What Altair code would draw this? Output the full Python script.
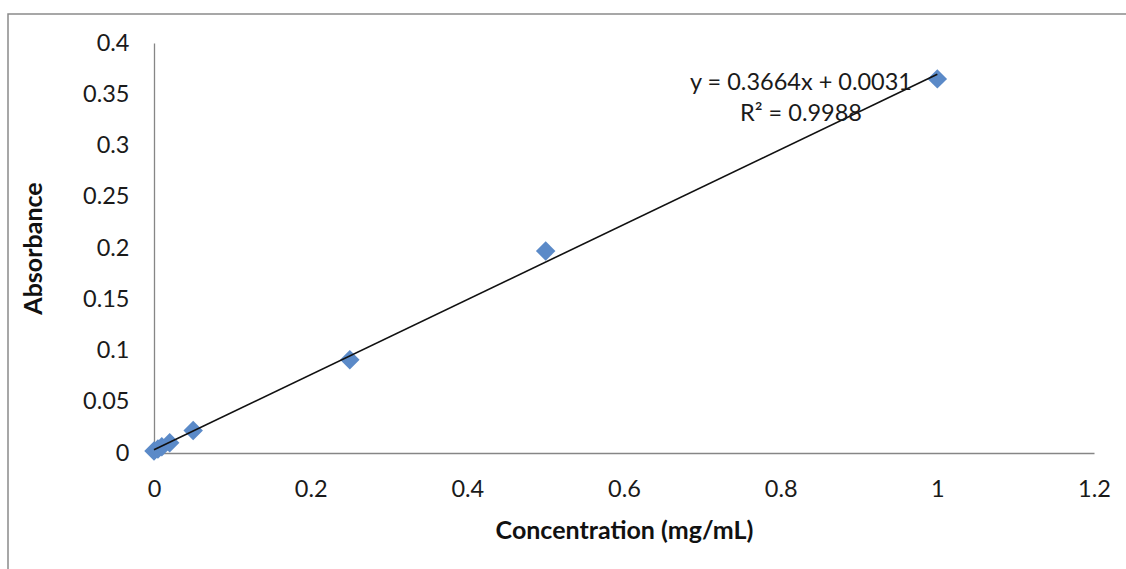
import altair as alt
import pandas as pd

# Data
concentration = [0.0, 0.005, 0.01, 0.02, 0.05, 0.25, 0.5, 1.0]
absorbance = [0.002, 0.004, 0.006, 0.010, 0.022, 0.091, 0.197, 0.365]

slope = 0.3664
intercept = 0.0031
eq_lines = ["y = 0.3664x + 0.0031", "R² = 0.9988"]

x_ticks = [0, 0.2, 0.4, 0.6, 0.8, 1.0, 1.2]
y_ticks = [0, 0.05, 0.1, 0.15, 0.2, 0.25, 0.3, 0.35, 0.4]

FONT = "Lato"
W, H = 940, 410

pts = pd.DataFrame({"conc": concentration, "abs": absorbance})
fit_x = [min(concentration), max(concentration)]
fit = pd.DataFrame({"conc": fit_x, "abs": [slope * v + intercept for v in fit_x]})

xs = alt.Scale(domain=[0, 1.2], nice=False, zero=False)
ys = alt.Scale(domain=[0, 0.4], nice=False, zero=False)

xaxis = alt.Axis(values=x_ticks, format="~g", grid=False, ticks=False,
                 domainColor="#868686", domainWidth=1.3,
                 labelFont=FONT, labelFontSize=23.5, labelColor="#1a1a1a",
                 labelPadding=24, labelFlush=False,
                 title="Concentration (mg/mL)", titleFont=FONT, titleFontSize=25,
                 titleFontWeight="bold", titleColor="#111111",
                 titleBaseline="middle", titleY=77)
yaxis = alt.Axis(values=y_ticks, format="~g", grid=False, ticks=False,
                 domainColor="#868686", domainWidth=1.3,
                 labelFont=FONT, labelFontSize=23.5, labelColor="#1a1a1a",
                 labelPadding=25, labelFlush=False,
                 title="Absorbance", titleFont=FONT, titleFontSize=25,
                 titleFontWeight="bold", titleColor="#111111",
                 titleBaseline="middle", titleX=-121, titleY=205, titleAngle=270)

frame = alt.Chart(pd.DataFrame({"k": [0]})).mark_rect(
    fill=None, stroke="#8a8a8a", strokeWidth=1.5
).encode(x=alt.value(-146), y=alt.value(-29), x2=alt.value(1300), y2=alt.value(800))

line = alt.Chart(fit).mark_line(color="#111111", strokeWidth=1.6).encode(
    x=alt.X("conc:Q", scale=xs, axis=xaxis),
    y=alt.Y("abs:Q", scale=ys, axis=yaxis),
)

points = alt.Chart(pts).mark_point(
    shape="diamond", filled=True, size=380, color="#5b8ac8", opacity=1
).encode(x=alt.X("conc:Q", scale=xs, axis=xaxis),
         y=alt.Y("abs:Q", scale=ys, axis=yaxis))

eq1 = alt.Chart(pd.DataFrame({"t": [eq_lines[0]]})).mark_text(
    font=FONT, fontSize=23.5, color="#1a1a1a", align="center", baseline="middle"
).encode(x=alt.value(647), y=alt.value(40), text="t:N")

eq2 = alt.Chart(pd.DataFrame({"t": [eq_lines[1]]})).mark_text(
    font=FONT, fontSize=23.5, color="#1a1a1a", align="center", baseline="middle"
).encode(x=alt.value(647), y=alt.value(71), text="t:N")

chart = alt.layer(frame, points, line, eq1, eq2).properties(
    width=W, height=H,
    autosize=alt.AutoSizeParams(type="none"),
    padding={"left": 154, "top": 43, "right": 32, "bottom": 116},
    background="white",
).configure_view(stroke=None)

chart.save("out.html", embed_options={"renderer": "svg", "actions": False})
